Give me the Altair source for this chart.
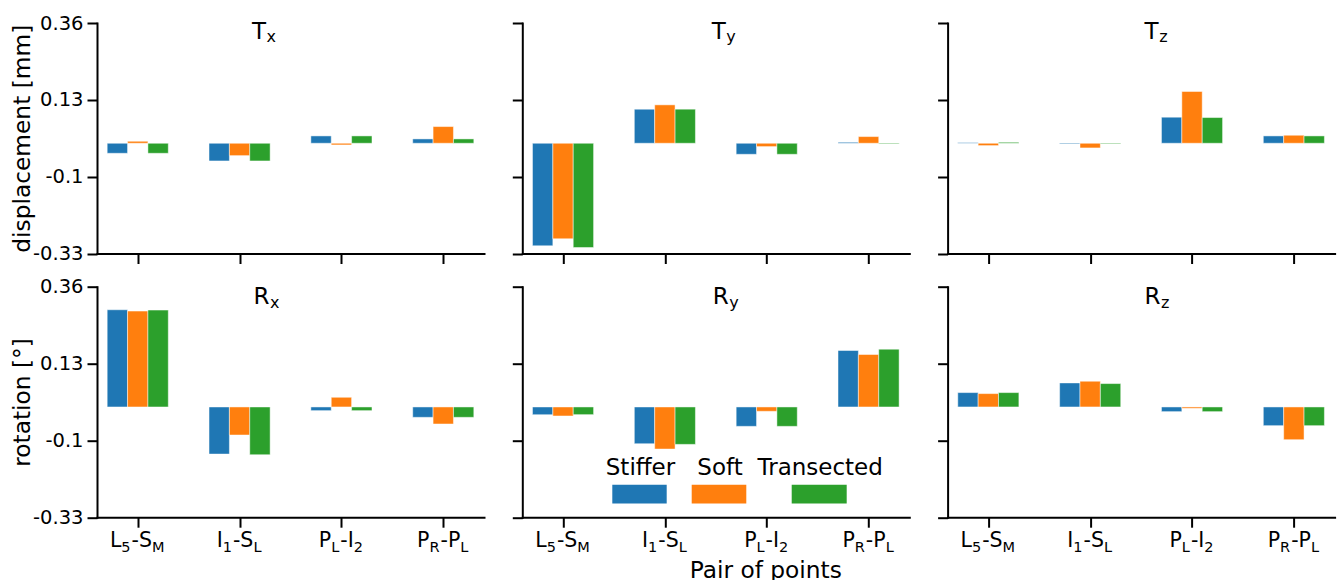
import altair as alt
import pandas as pd

FONT = "DejaVu Sans"

# ---------------- data ----------------
SERIES = ["Stiffer", "Soft", "Transected"]
COLORS = ["#1f77b4", "#ff7f0e", "#2ca02c"]
# pair labels: (main, subscript), (main, subscript)
PAIRS = [
    [("L", "5"), ("-S", "M")],
    [("I", "1"), ("-S", "L")],
    [("P", "L"), ("-I", "2")],
    [("P", "R"), ("-P", "L")],
]
PANEL_TITLES = [("T", "x"), ("T", "y"), ("T", "z"), ("R", "x"), ("R", "y"), ("R", "z")]
Y_TICKS = [-0.33, -0.1, 0.13, 0.36]
Y_TITLE_TOP = "displacement [mm]"
Y_TITLE_BOTTOM = "rotation [°]"
X_TITLE = "Pair of points"

TX_STIFFER = [-0.030, -0.053, 0.022, 0.013]
TX_SOFT = [0.006, -0.037, -0.005, 0.050]
TX_TRANSECTED = [-0.030, -0.053, 0.022, 0.013]

TY_STIFFER = [-0.307, 0.102, -0.033, 0.003]
TY_SOFT = [-0.286, 0.115, -0.010, 0.020]
TY_TRANSECTED = [-0.312, 0.102, -0.033, -0.002]

TZ_STIFFER = [0.002, -0.002, 0.078, 0.022]
TZ_SOFT = [-0.007, -0.014, 0.155, 0.024]
TZ_TRANSECTED = [0.003, -0.002, 0.077, 0.022]

RX_STIFFER = [0.291, -0.141, -0.011, -0.031]
RX_SOFT = [0.287, -0.084, 0.029, -0.051]
RX_TRANSECTED = [0.290, -0.143, -0.011, -0.031]

RY_STIFFER = [-0.023, -0.110, -0.058, 0.169]
RY_SOFT = [-0.027, -0.126, -0.013, 0.157]
RY_TRANSECTED = [-0.023, -0.112, -0.058, 0.173]

RZ_STIFFER = [0.043, 0.072, -0.014, -0.056]
RZ_SOFT = [0.040, 0.077, -0.004, -0.098]
RZ_TRANSECTED = [0.043, 0.070, -0.014, -0.056]

PANEL_VALUES = [
    [TX_STIFFER, TX_SOFT, TX_TRANSECTED],
    [TY_STIFFER, TY_SOFT, TY_TRANSECTED],
    [TZ_STIFFER, TZ_SOFT, TZ_TRANSECTED],
    [RX_STIFFER, RX_SOFT, RX_TRANSECTED],
    [RY_STIFFER, RY_SOFT, RY_TRANSECTED],
    [RZ_STIFFER, RZ_SOFT, RZ_TRANSECTED],
]

# ---------------- layout / style ----------------
W = 387
H = 230.5
X_DOMAIN = [-0.4, 3.4]
PX_PER_UNIT = W / (X_DOMAIN[1] - X_DOMAIN[0])
BAR_W = 0.2
OFFSETS = [-0.2, 0.0, 0.2]

TICK_FS = 19.5
LAB_MAIN = 20.5
LAB_SUB = 14.5
LAB_SUB_DY = 5
LAB_BASE = 30
TITLE_FS = 23
TITLE_SUB = 16
TITLE_SUB_DY = 3.5
TITLE_X = [155, 189.5, 197, 156.5, 190.5, 197]
TITLE_BASE = [15.5, 15.5, 15.5, 17.5, 17.5, 17.5]

# DejaVu Sans advance widths (em)
ADV = {"L": 0.557, "5": 0.636, "1": 0.636, "2": 0.636, "-": 0.361, "S": 0.635,
       "M": 0.863, "I": 0.295, "P": 0.603, "R": 0.695, "T": 0.611}


def text_w(t, fs):
    return sum(ADV.get(c, 0.6) for c in t) * fs


def label_parts(idx, pair):
    segs = []
    for m, s in pair:
        segs.append((m, LAB_MAIN, False, 0.0))
        segs.append((s, LAB_SUB, True, 1.0))
    widths = [text_w(t, fs) + gap for t, fs, _, gap in segs]
    total = sum(widths)
    x = -total / 2
    rows = []
    for (t, fs, is_sub, gap), w in zip(segs, widths):
        rows.append({"lx": idx + x / PX_PER_UNIT, "t": t, "sub": is_sub})
        x += w
    return rows


x_scale = alt.Scale(domain=X_DOMAIN, nice=False, zero=False)
y_scale = alt.Scale(domain=[-0.33, 0.36], nice=False, zero=False)
color_scale = alt.Scale(domain=SERIES, range=COLORS)
one = pd.DataFrame({"a": [0]})


def panel(k):
    row, col = divmod(k, 3)
    rows = []
    for s, name in enumerate(SERIES):
        for i, v in enumerate(PANEL_VALUES[k][s]):
            c = i + OFFSETS[s]
            rows.append({"series": name, "value": v, "zero": 0.0,
                         "x0": c - BAR_W / 2, "x1": c + BAR_W / 2})
    df = pd.DataFrame(rows)

    y_axis_kw = dict(values=Y_TICKS, labels=(col == 0),
                     labelExpr="datum.value < 0 ? '-' + format(-datum.value, '.2~f') : format(datum.value, '.2~f')")
    if col == 0:
        y_axis_kw.update(title=Y_TITLE_TOP if row == 0 else Y_TITLE_BOTTOM,
                         titleX=-68, titleY=H / 2, titleAngle=-90,
                         titleBaseline="alphabetic", titleAlign="center")
    else:
        y_axis_kw.update(title=None)

    x_axis_kw = dict(values=[0, 1, 2, 3], labels=False)
    if row == 1 and col == 1:
        x_axis_kw.update(title=X_TITLE, titleX=243, titleY=60,
                         titleBaseline="alphabetic", titleAlign="center")
    else:
        x_axis_kw.update(title=None)
    x_axis = alt.Axis(**x_axis_kw)

    bars = alt.Chart(df).mark_bar(stroke="white", strokeWidth=0.6, strokeOpacity=0.8).encode(
        x=alt.X("x0:Q", scale=x_scale, axis=x_axis),
        x2="x1:Q",
        y=alt.Y("value:Q", scale=y_scale, axis=alt.Axis(**y_axis_kw)),
        y2="zero:Q",
        color=alt.Color("series:N", scale=color_scale, legend=None),
    )
    layers = [bars]

    # panel title with subscript
    main, sub = PANEL_TITLES[k]
    tx, tb = TITLE_X[k], TITLE_BASE[k]
    layers.append(alt.Chart(one).mark_text(text=main, align="left", baseline="alphabetic",
                                            font=FONT, fontSize=TITLE_FS, color="black")
                  .encode(x=alt.value(tx), y=alt.value(tb)))
    layers.append(alt.Chart(one).mark_text(text=sub, align="left", baseline="alphabetic",
                                            font=FONT, fontSize=TITLE_SUB, color="black")
                  .encode(x=alt.value(tx + text_w(main, TITLE_FS) + 0.5),
                          y=alt.value(tb + TITLE_SUB_DY)))

    # x tick labels with subscripts (bottom row)
    if row == 1:
        lrows = []
        for i, pair in enumerate(PAIRS):
            lrows += label_parts(i, pair)
        ldf = pd.DataFrame(lrows)
        for is_sub in (False, True):
            layers.append(alt.Chart(ldf).transform_filter(
                "datum.sub" if is_sub else "!datum.sub"
            ).mark_text(align="left", baseline="alphabetic", font=FONT, color="black",
                        fontSize=LAB_SUB if is_sub else LAB_MAIN).encode(
                x=alt.X("lx:Q", scale=x_scale, axis=x_axis),
                y=alt.value(H + LAB_BASE + (LAB_SUB_DY if is_sub else 0)),
                text="t:N",
            ))

    # legend inside R_y panel
    if k == 4:
        patch_x = [(90, 144.4), (169.4, 224), (269.4, 324.4)]
        for name, colr, (a, b) in zip(SERIES, COLORS, patch_x):
            layers.append(alt.Chart(one).mark_rect(color=colr).encode(
                x=alt.value(a), x2=alt.value(b), y=alt.value(198), y2=alt.value(216.7)))
            layers.append(alt.Chart(one).mark_text(text=name, align="center", baseline="alphabetic",
                                                    font=FONT, fontSize=23, color="black").encode(
                x=alt.value((a + b) / 2 + 1), y=alt.value(188)))

    return alt.layer(*layers).properties(width=W, height=H)


chart = alt.concat(*[panel(k) for k in range(6)], columns=3,
                   spacing={"row": 32.7, "column": 38.3}, bounds="flush").properties(
    padding={"left": 9, "top": 13, "right": 4, "bottom": 0}
).configure_view(stroke=None).configure_axis(
    domainColor="black", domainWidth=2, domainCap="square",
    tickColor="black", tickWidth=2, tickSize=10, grid=False,
    labelFont=FONT, labelFontSize=TICK_FS, labelColor="black", labelPadding=4,
    titleFont=FONT, titleFontSize=23.3, titleFontWeight="normal", titleColor="black",
)

chart.save("out.html", embed_options={"renderer": "svg", "actions": False})
